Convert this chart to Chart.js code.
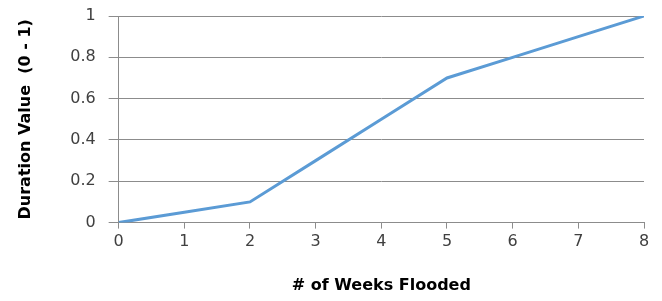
<!DOCTYPE html>
<html>
<head>
<meta charset="utf-8">
<script src="https://cdn.jsdelivr.net/npm/chart.js@4/dist/chart.umd.min.js"></script>
<style>
html,body{margin:0;padding:0;background:#fff;}
#wrap{width:662px;height:301px;position:relative;}
</style>
</head>
<body>
<div id="wrap"><canvas id="c" width="662" height="301"></canvas></div>
<script>
const weeks = [0, 1, 2, 3, 4, 5, 6, 7, 8];
const durationValues = [0, 0.05, 0.1, 0.3, 0.5, 0.7, 0.8, 0.9, 1];
const yTicks = [0, 0.2, 0.4, 0.6, 0.8, 1];
const xTitle = '# of Weeks Flooded';
const yTitle = 'Duration Value  (0 - 1)';

const points = weeks.map((w, i) => ({x: w, y: durationValues[i]}));
const gridColor = '#8c8c8c';
const tickFont = {family: 'DejaVu Sans', size: 16};
const titleFont = {family: 'DejaVu Sans', size: 16, weight: 'bold'};

new Chart(document.getElementById('c'), {
  type: 'line',
  data: {
    datasets: [{
      data: points,
      borderColor: '#5b9bd5',
      borderWidth: 3,
      pointRadius: 0,
      tension: 0,
      fill: false
    }]
  },
  options: {
    responsive: false,
    animation: false,
    layout: {padding: {left: 16, right: 18, top: 16, bottom: 6}},
    plugins: {legend: {display: false}, tooltip: {enabled: false}},
    scales: {
      x: {
        type: 'linear',
        min: 0, max: 8,
        ticks: {stepSize: 1, color: '#404040', font: tickFont, padding: 4, maxRotation: 0},
        grid: {drawOnChartArea: false, drawTicks: true, tickLength: 6, color: gridColor},
        border: {display: true, color: gridColor, width: 1},
        title: {display: true, text: xTitle, color: '#000', font: titleFont, padding: {top: 20, bottom: 0}}
      },
      y: {
        min: 0, max: 1,
        afterBuildTicks: (axis) => { axis.ticks = yTicks.map(v => ({value: v})); },
        afterFit: (axis) => { axis.paddingTop = 0; },
        ticks: {color: '#404040', font: tickFont, padding: 13, callback: (v) => String(v)},
        grid: {color: gridColor, lineWidth: 1, tickLength: 10},
        border: {display: true, color: gridColor, width: 1},
        title: {display: true, text: yTitle, color: '#000', font: titleFont, padding: {top: 0, bottom: 22}}
      }
    }
  }
});
</script>
</body>
</html>
